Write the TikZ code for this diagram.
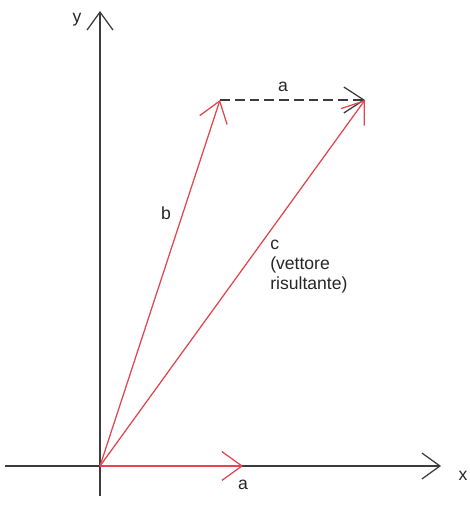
\documentclass[tikz,border=0pt]{standalone}
\usepackage{fontspec}
\setmainfont{Liberation Sans}
\usepackage{tikz}
\usetikzlibrary{arrows.meta, positioning, calc}
\usepackage{xcolor}
\definecolor{vecred}{RGB}{226,70,78}
\definecolor{axisgray}{RGB}{60,60,60}
\tikzset{
  label/.style={font=\fontsize{12.5}{14}\selectfont, text=black!85, inner sep=0pt, align=left},
  axisarrow/.style={-{Straight Barb[length=4.5mm, width=6.5mm]}, line width=0.9pt, color=axisgray},
  vecarrow/.style={-{Straight Barb[length=5mm, width=7.2mm]}, line width=0.9pt, color=vecred},
  dashedarrow/.style={-{Straight Barb[length=5mm, width=6.5mm]}, line width=0.9pt, color=axisgray, dash pattern=on 7pt off 3.5pt}
}
\begin{document}
\begin{tikzpicture}[x=0.025cm, y=-0.025cm]
  \useasboundingbox (0,0) rectangle (469,520);
  % axes
  \coordinate (O) at (100,466);
  \coordinate (xstart) at (5,466);
  \coordinate (xend) at (441,466);
  \coordinate (ystart) at (100,496);
  \coordinate (yend) at (100,11);
  \draw[axisarrow] (xstart) -- (xend);
  \draw[axisarrow] (ystart) -- (yend);
  \node[label] (xlab) at (463,476) {x};
  \node[label] (ylab) at (77,20) {y};

  % vectors
  \coordinate (A) at (243,466);
  \coordinate (B) at (220,100);
  \coordinate (C) at (365,100);
  \draw[dashedarrow] (B) -- (C);
  \draw[vecarrow] (O) -- (A);
  \draw[vecarrow] (O) -- (B);
  \draw[vecarrow] (O) -- (C);

  \node[label] (alab) at (243,485) {a};
  \node[label] (atop) at (283,87) {a};
  \node[label] (blab) at (166,213) {b};
  \node[label, anchor=north west] (clab) at (270,240) {c\\(vettore\\risultante)};
\end{tikzpicture}
\end{document}
